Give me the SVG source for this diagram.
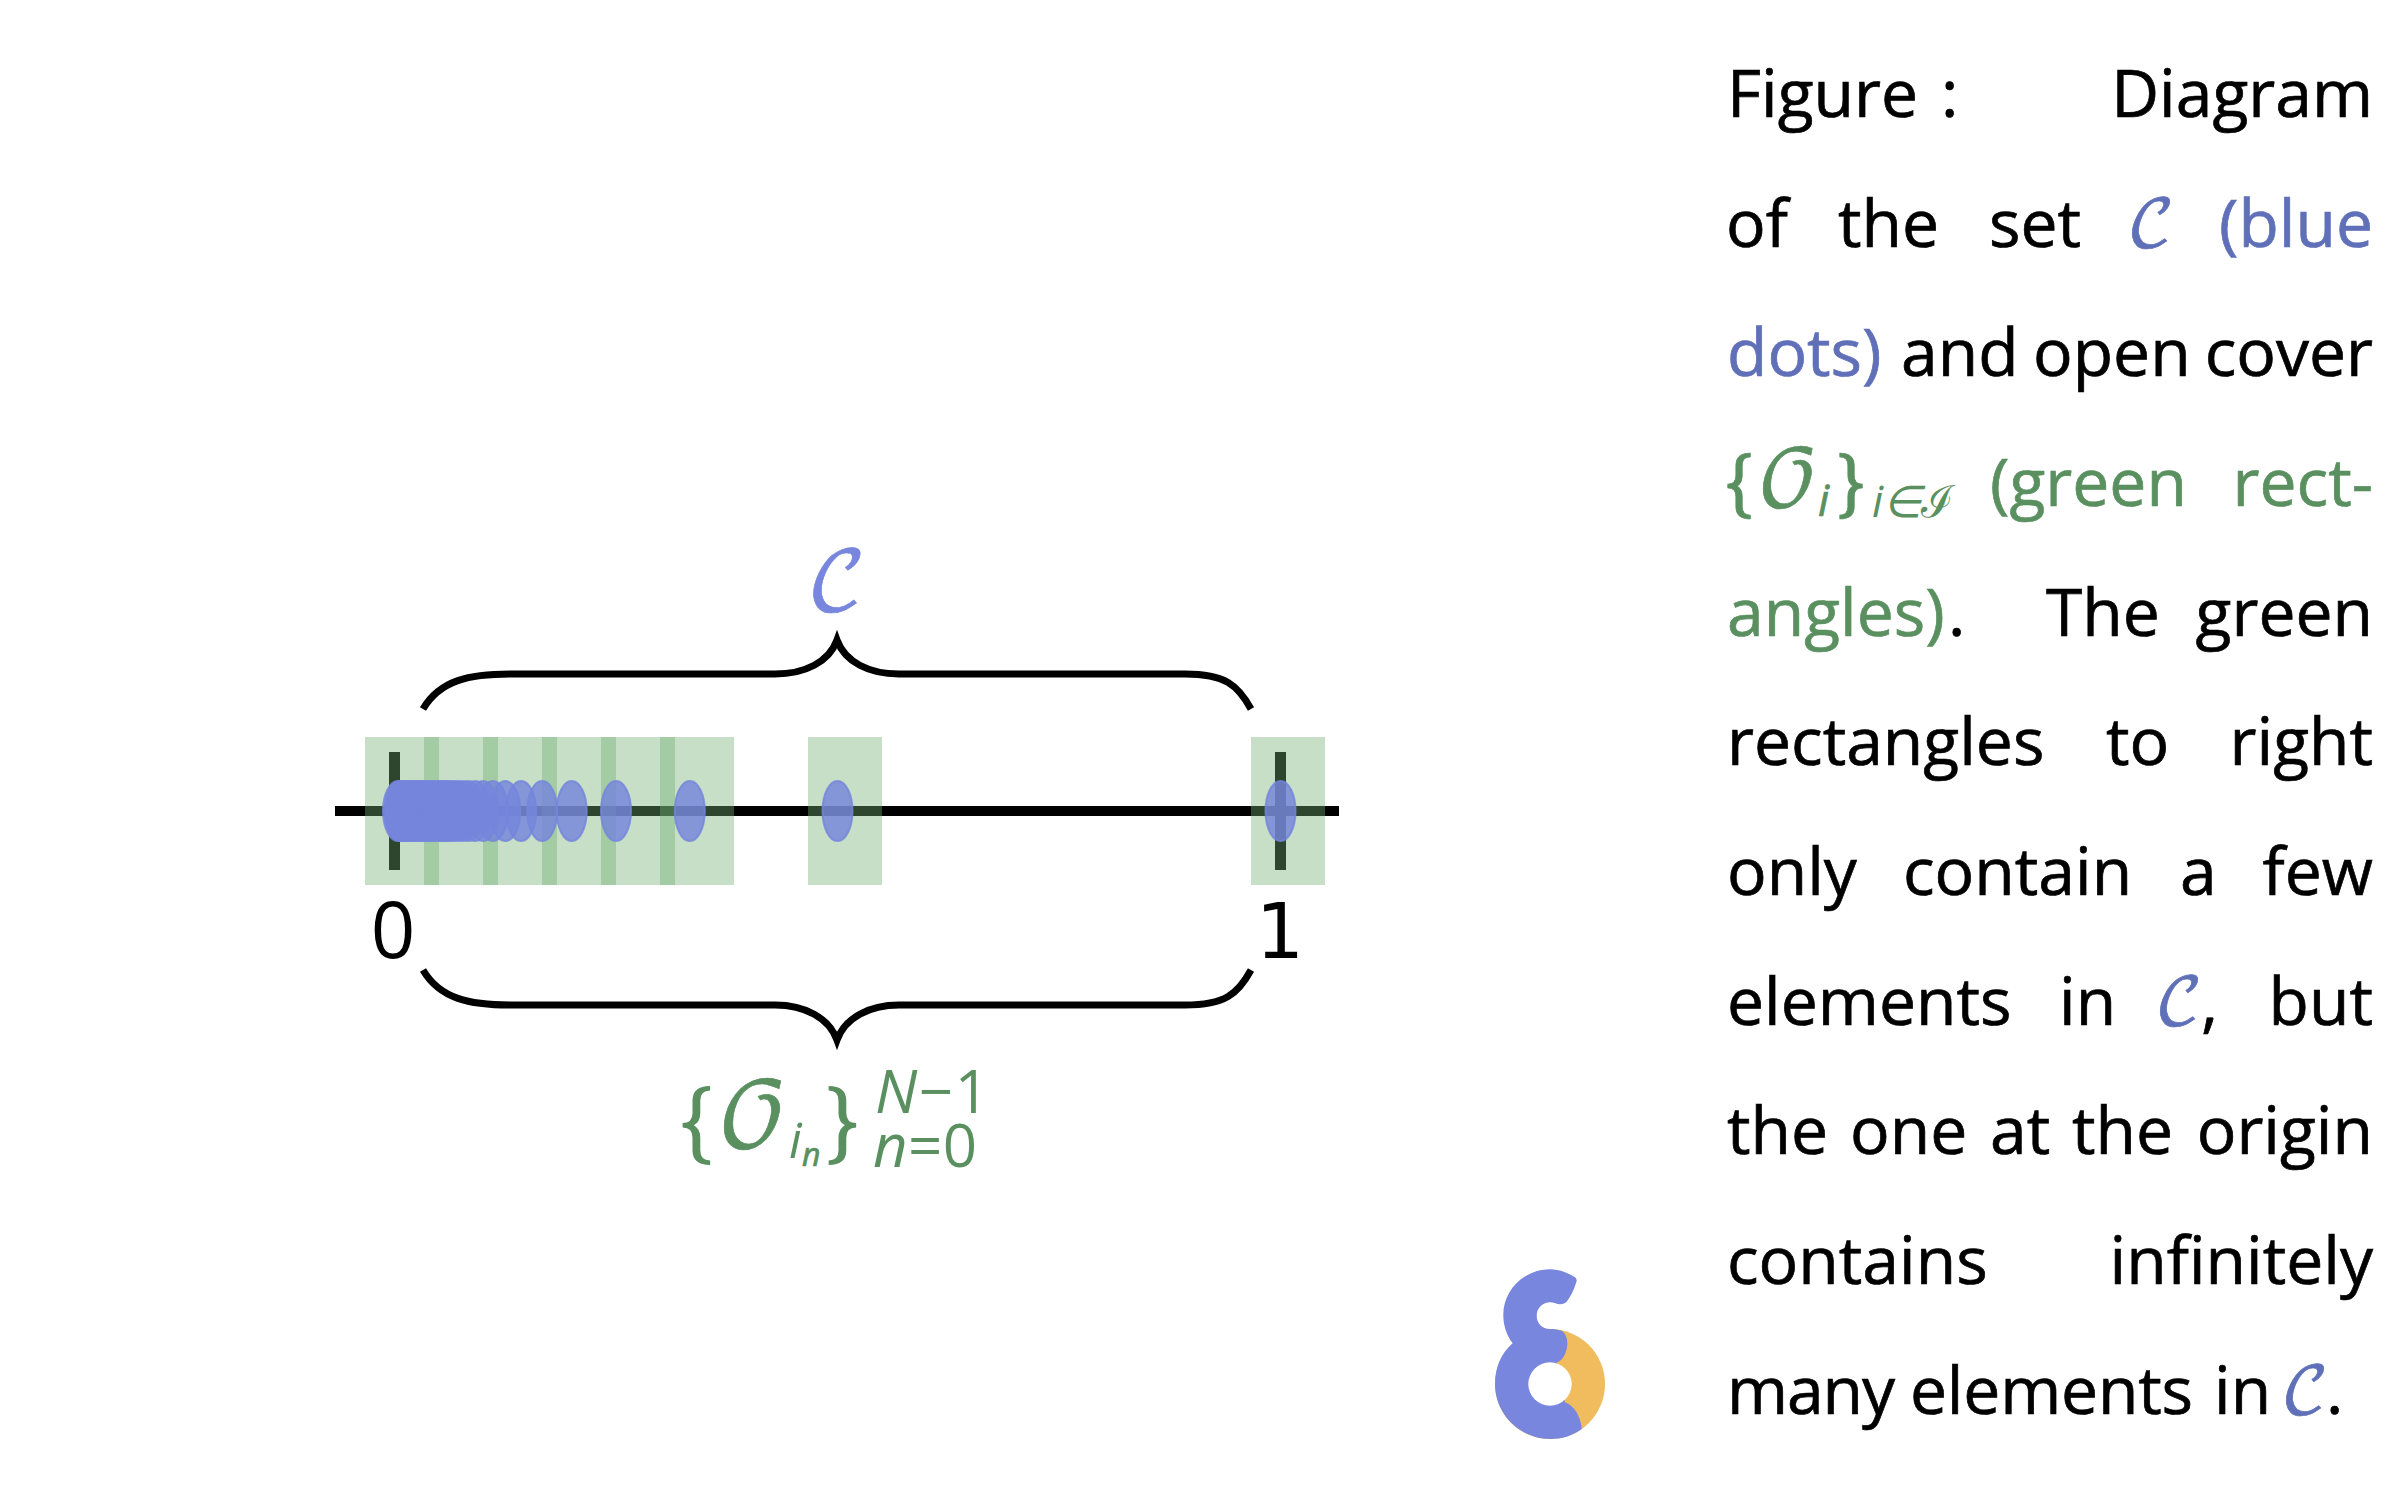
<svg xmlns="http://www.w3.org/2000/svg" xmlns:xlink="http://www.w3.org/1999/xlink" width="2400" height="1500" viewBox="0 0 2400 1500">
<style>
text{font-family:"Open Sans","Noto Sans",sans-serif;font-size:66px;fill:#000;stroke:#000;stroke-width:.7}
.b{fill:#6070b8;stroke:#6070b8}.g{fill:#5a9060;stroke:#5a9060}
.e{text-anchor:end}
.m{font-family:"DejaVu Math TeX Gyre","DejaVu Serif","Liberation Serif",serif;font-style:normal}
.i{font-style:italic}
.u{font-style:normal}
.cover{fill:#70af70;fill-opacity:.4}
.brace{fill:none;stroke:#000;stroke-width:7;stroke-linejoin:miter;stroke-miterlimit:12}
.dot{fill:#7585dc;fill-opacity:.82;stroke:#7585dc;stroke-opacity:.82;stroke-width:2}
</style>
<defs><ellipse id="d" cx="0" cy="811" rx="15" ry="30" class="dot"/></defs>
<rect width="2400" height="1500" fill="#fff"/>
<g id="axis">
<rect x="335" y="806" width="1004" height="10"/>
<rect x="389" y="752" width="11" height="118"/>
<rect x="1275" y="752" width="11" height="118"/>
</g>
<g id="cover">
<rect class="cover" x="365" y="737" width="74" height="148"/>
<rect class="cover" x="424" y="737" width="74" height="148"/>
<rect class="cover" x="483" y="737" width="74" height="148"/>
<rect class="cover" x="542" y="737" width="74" height="148"/>
<rect class="cover" x="601" y="737" width="74" height="148"/>
<rect class="cover" x="660" y="737" width="74" height="148"/>
<rect class="cover" x="808" y="737" width="74" height="148"/>
<rect class="cover" x="1251" y="737" width="74" height="148"/>
</g>
<g id="set-c">
<use href="#d" x="1280.5"/><use href="#d" x="837.5"/><use href="#d" x="689.8"/><use href="#d" x="616"/><use href="#d" x="571.7"/><use href="#d" x="542.2"/><use href="#d" x="521.1"/><use href="#d" x="505.3"/><use href="#d" x="492.9"/><use href="#d" x="483.1"/><use href="#d" x="475"/><use href="#d" x="468.3"/><use href="#d" x="462.7"/><use href="#d" x="457.8"/><use href="#d" x="453.6"/><use href="#d" x="449.9"/><use href="#d" x="446.6"/><use href="#d" x="443.7"/><use href="#d" x="441.1"/><use href="#d" x="438.8"/><use href="#d" x="434.8"/><use href="#d" x="431.4"/><use href="#d" x="428.6"/><use href="#d" x="426.1"/><use href="#d" x="424"/><use href="#d" x="421.3"/><use href="#d" x="419.1"/><use href="#d" x="416.6"/><use href="#d" x="414.2"/><use href="#d" x="412.2"/><use href="#d" x="409.3"/><use href="#d" x="407.2"/><use href="#d" x="405.6"/><use href="#d" x="403.4"/><use href="#d" x="401.3"/><use href="#d" x="399.7"/><use href="#d" x="398"/>
</g>
<g id="connectors">
<path class="brace" d="M423,709 C440,680 470,674 510,674 L775,674 C805,674 829,662 837,640 C845,662 869,674 899,674 L1185,674 C1225,674 1238,685 1251,709"/>
<path class="brace" d="M423,970 C440,999 470,1005 510,1005 L775,1005 C805,1005 829,1018 837,1040 C845,1018 869,1005 899,1005 L1185,1005 C1225,1005 1238,994 1251,970"/>
</g>
<g id="label-c"><text class="m" x="807" y="610" style="fill:#7886dd;stroke:#7886dd;font-size:82px">𝒞</text></g>
<g id="label-0"><text x="393" y="958" text-anchor="middle" style="font-size:78px;stroke-width:0">0</text></g>
<g id="label-1"><text x="1280" y="958" text-anchor="middle" style="font-family:'DejaVu Sans',sans-serif;font-size:76px;stroke-width:0">1</text></g>
<g id="label-cover">
<text class="m g" x="678" y="1150" style="font-size:88px;stroke-width:0">{</text>
<text class="m g" x="717" y="1147" style="font-size:90px">𝒪</text>
<text class="i g" x="789" y="1158" style="font-size:50px;stroke-width:0">i</text>
<text class="i g" x="802" y="1166" style="font-size:32px">n</text>
<text class="m g" x="824" y="1150" style="font-size:88px;stroke-width:0">}</text>
<text class="g" x="875" y="1113" textLength="114" style="font-size:60px;stroke-width:0"><tspan class="i">N</tspan>−1</text>
<text class="g" x="873" y="1167" textLength="104" style="font-size:60px;stroke-width:0"><tspan class="i">n</tspan>=0</text>
</g>
<g id="logo">
<circle cx="1550" cy="1384" r="55" fill="#f0bc5e"/>
<path fill="#7886dd" d="M1575,1277.3 C1567,1272 1558,1269.3 1550,1269.3 C1524,1269.3 1503.3,1290 1503.3,1315 C1503.3,1326 1507,1336 1512.7,1343.3 C1501,1353 1495,1368 1495,1384 C1495,1414 1520,1439 1550,1439 C1562,1439 1572,1436 1581.7,1429 C1581,1417 1574,1405 1565,1402.3 L1556.7,1362.3 C1563,1361 1567.3,1352 1567.3,1343.3 C1567.3,1337 1565,1333 1561.7,1330.7 C1558,1329.5 1554,1329 1550,1329 C1542,1329 1536.7,1323 1536.7,1315.7 C1536.7,1308 1543,1302.3 1550,1302.3 C1554,1302.3 1557,1304.3 1560,1304.3 C1563,1304.3 1565,1303 1566.7,1301.7 C1571,1296 1574,1290 1576,1283 C1577,1281 1577,1279 1575,1277.3 Z"/>
<circle cx="1550" cy="1384" r="21.7" fill="#fff"/>
</g>
<g id="caption">
<text x="1727" y="117">Figure</text><text x="1941" y="117">:</text><text class="e" x="2373" y="117">Diagram</text>
<text x="1726" y="247">of</text><text x="1838" y="247">the</text><text x="1989" y="247">set</text><text class="m b" x="2127" y="247">𝒞</text><text class="b e" x="2373" y="247">(blue</text>
<text class="b" x="1727" y="376">dots)</text><text x="1901" y="376">and</text><text x="2033" y="376">open</text><text class="e" x="2373" y="376">cover</text>
<text class="m g" x="1724" y="506" style="font-size:72px">{</text><text class="m g" x="1757" y="506" style="font-size:78px">𝒪</text><text class="i g" x="1818" y="516" style="font-size:44px">i</text><text class="m g" x="1836" y="506" style="font-size:72px">}</text><text class="i g" x="1872" y="517" style="font-size:44px;stroke-width:0">i∈ℐ</text><text class="g" x="1990" y="506">(green</text><text class="g e" x="2373" y="506">rect-</text>
<text class="g" x="1727" y="636">angles)</text><text x="1948" y="636">.</text><text x="2046" y="636">The</text><text class="e" x="2373" y="636">green</text>
<text x="1727" y="765">rectangles</text><text x="2106" y="765">to</text><text class="e" x="2373" y="765">right</text>
<text x="1727" y="895">only</text><text x="1903" y="895">contain</text><text x="2180" y="895">a</text><text class="e" x="2373" y="895">few</text>
<text x="1727" y="1025">elements</text><text x="2059" y="1025">in</text><text class="m b" x="2155" y="1025">𝒞</text><text x="2201" y="1025">,</text><text class="e" x="2373" y="1025">but</text>
<text x="1727" y="1154">the</text><text x="1850" y="1154">one</text><text x="1990" y="1154">at</text><text x="2072" y="1154">the</text><text class="e" x="2373" y="1154">origin</text>
<text x="1727" y="1284">contains</text><text class="e" x="2373" y="1284">infinitely</text>
<text x="1727" y="1414" textLength="168">many</text><text x="1910" y="1414" textLength="283">elements</text><text x="2214" y="1414">in</text><text class="m b" x="2281" y="1414">𝒞</text><text x="2326" y="1414">.</text>
</g>
</svg>
